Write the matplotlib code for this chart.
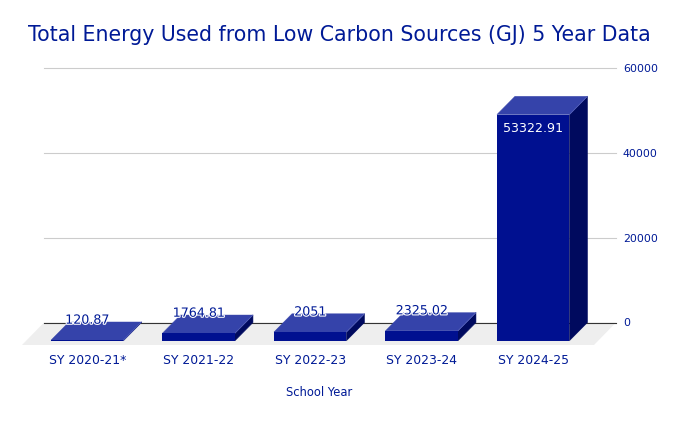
import matplotlib
matplotlib.use("Agg")
import matplotlib.pyplot as plt
import matplotlib.patheffects as pe
from matplotlib.patches import Polygon

years = ["SY 2020-21*", "SY 2021-22", "SY 2022-23", "SY 2023-24", "SY 2024-25"]
energy = [120.87, 1764.81, 2051, 2325.02, 53322.91]
labels = ["120.87", "1764.81", "2051", "2325.02", "53322.91"]
yticks = [0, 20000, 40000, 60000]

W, H = 679, 421
TEXT = "#001A96"
FRONT, TOP, SIDE = "#001090", "#3543AA", "#000A5E"

fig = plt.figure(figsize=(W / 100, H / 100), dpi=100)
L, R, T, B = 44, 616, 68, 322.5
ax = fig.add_axes([L / W, 1 - B / H, (R - L) / W, (B - T) / H])
slot = 111.5
ax.set_xlim((L - 105.2) / slot, (R - 105.2) / slot)
ax.set_ylim(0, 60000)
px_y = 60000 / (B - T)
dx, dy = 18 / slot, 18.2 * px_y
bw = 72.5 / slot

for s in ax.spines.values():
    s.set_visible(False)
ax.set_facecolor("none")
ax.set_axisbelow(True)
ax.yaxis.tick_right()
ax.set_yticks(yticks)
ax.set_yticklabels([str(v) for v in yticks], color=TEXT, fontsize=7.9, family="DejaVu Sans")
ax.tick_params(axis="y", length=0, pad=5)
for v in yticks[1:]:
    ax.axhline(v, color="#CCCCCC", lw=0.8, zorder=1, clip_on=False)

xmin, xmax = ax.get_xlim()
ax.add_patch(Polygon([(xmin, 0), (xmax, 0), (xmax - 22 / slot, -22.5 * px_y), (xmin - 22 / slot, -22.5 * px_y)],
                     closed=True, fc="#EEEEEE", ec="none", zorder=1, clip_on=False))
ax.axhline(0, color="#333333", lw=0.8, zorder=1.5, clip_on=False)

xf = [i - dx for i in range(len(energy))]
for x, v in zip(xf, energy):
    l, r, b, t = x - bw / 2, x + bw / 2, -dy, v - dy
    ax.add_patch(Polygon([(r, b), (r + dx, b + dy), (r + dx, t + dy), (r, t)], closed=True,
                         fc=SIDE, ec=SIDE, lw=0.4, zorder=2.8, clip_on=False))
    ax.add_patch(Polygon([(l, t), (r, t), (r + dx, t + dy), (l + dx, t + dy)], closed=True,
                         fc=TOP, ec=TOP, lw=0.3, zorder=2.8, clip_on=False))
    ax.plot([r, r + dx], [t, t + dy], color="#5A66BC", lw=0.5, zorder=2.9, clip_on=False)
ax.bar(xf, energy, width=bw, bottom=-dy, color=FRONT, zorder=3, clip_on=False)

for x, v, s in zip(xf, energy, labels):
    inside = v > 20000
    ax.annotate(s, (x, v - dy), xytext=(0, -14 * 0.72 if inside else 20 * 0.72),
                textcoords="offset points", ha="center", va="center", fontsize=9.1,
                family="DejaVu Sans", color="white" if inside else TEXT, zorder=5,
                annotation_clip=False,
                path_effects=None if inside else [pe.withStroke(linewidth=1.6, foreground="white")])

ax.set_xticks(xf)
ax.set_xticklabels(years, color=TEXT, fontsize=8.9, family="DejaVu Sans")
ax.tick_params(axis="x", length=0, pad=22.5)

fig.text(319 / W, 1 - 393 / H, "School Year", color=TEXT, fontsize=8.3, family="DejaVu Sans", ha="center", va="center")
fig.text(339.5 / W, 1 - 35 / H, "Total Energy Used from Low Carbon Sources (GJ) 5 Year Data",
         color=TEXT, fontsize=14.8, family="DejaVu Sans", ha="center", va="center")
fig.savefig("out.png", dpi=100)
